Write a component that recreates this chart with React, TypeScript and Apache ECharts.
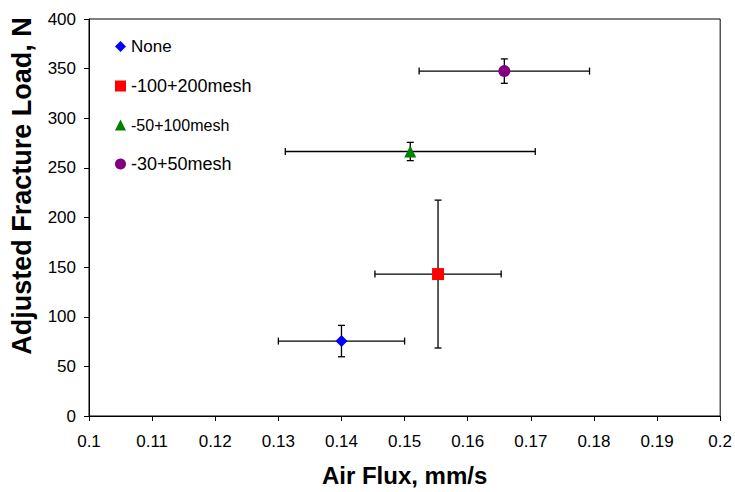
import React, { useEffect, useRef } from "react";
import * as echarts from "echarts";

const categories = ["None", "-100+200mesh", "-50+100mesh", "-30+50mesh"];
const airFlux = [0.14, 0.1553, 0.1509, 0.1658];
const fractureLoad = [75.5, 143, 266.5, 347.5];
const airFluxErr = [0.01, 0.01, 0.0198, 0.0135];
const loadErr = [15.8, 74.5, 9.2, 12.3];
const colors = ["#0000FF", "#FF0000", "#008000", "#800080"];
const symbols = ["diamond", "rect", "triangle", "circle"];
const symbolSizes = [12, 12, 12, 12];
const legendFontSizes = [17, 18, 16, 18];
const xTicks = { min: 0.1, max: 0.2, interval: 0.01 };
const yTicks = { min: 0, max: 400, interval: 50 };

export default function App() {
  const ref = useRef<HTMLDivElement>(null);
  useEffect(() => {
    if (!ref.current) return;
    const chart = echarts.init(ref.current, undefined, { renderer: "svg" });
    const font = "Liberation Sans, Arial, sans-serif";
    const errData = categories.map((_, i) => [
      airFlux[i],
      fractureLoad[i],
      airFluxErr[i],
      loadErr[i],
    ]);
    const scatterSeries = categories.map((name, i) => ({
      name,
      type: "scatter",
      z: 3,
      symbol: symbols[i],
      symbolSize: symbolSizes[i],
      itemStyle: { color: colors[i], opacity: 1 },
      data: [[airFlux[i], fractureLoad[i]]],
    }));
    const cap = 3.5;
    const option: any = {
      animation: false,
      backgroundColor: "#fff",
      textStyle: { fontFamily: font },
      grid: {
        left: 89,
        right: 13,
        top: 19,
        bottom: 74,
        show: true,
        borderColor: "#000",
        borderWidth: 1,
      },
      legend: {
        orient: "vertical",
        left: 110,
        top: 33,
        itemGap: 22,
        itemWidth: 11,
        itemHeight: 11,
        itemStyle: { opacity: 1 },
        textStyle: { fontFamily: font, color: "#000", fontSize: 17 },
        data: categories.map((name, i) => ({
          name,
          textStyle: { fontSize: legendFontSizes[i] },
        })),
      },
      xAxis: {
        type: "value",
        min: xTicks.min,
        max: xTicks.max,
        interval: xTicks.interval,
        name: "Air Flux, mm/s",
        nameLocation: "middle",
        nameGap: 47,
        nameTextStyle: {
          fontFamily: font,
          fontSize: 24,
          fontWeight: "bold",
          color: "#000",
        },
        axisLine: { show: true, lineStyle: { color: "#000", width: 1 } },
        axisTick: { show: true, length: 5, lineStyle: { color: "#000" } },
        axisLabel: {
          margin: 17,
          fontSize: 17,
          color: "#000",
          fontFamily: font,
          formatter: (v: number) => String(parseFloat(v.toFixed(2))),
        },
        splitLine: { show: false },
      },
      yAxis: {
        type: "value",
        min: yTicks.min,
        max: yTicks.max,
        interval: yTicks.interval,
        axisLine: { show: true, lineStyle: { color: "#000", width: 1 } },
        axisTick: { show: true, length: 5, lineStyle: { color: "#000" } },
        axisLabel: {
          margin: 13,
          fontSize: 17,
          color: "#000",
          fontFamily: font,
        },
        splitLine: { show: false },
      },
      graphic: [
        {
          type: "text",
          x: 22,
          y: 186,
          rotation: Math.PI / 2,
          style: {
            text: "Adjusted Fracture Load, N",
            fontFamily: font,
            fontSize: 27,
            fontWeight: "bold",
            fill: "#000",
            textAlign: "center",
            textVerticalAlign: "middle",
          },
        },
      ],
      series: [
        {
          name: "errorBars",
          type: "custom",
          z: 2,
          silent: true,
          data: errData,
          renderItem: (params: any, api: any) => {
            const x = api.value(0);
            const y = api.value(1);
            const ex = api.value(2);
            const ey = api.value(3);
            const c = api.coord([x, y]);
            const l = api.coord([x - ex, y]);
            const r = api.coord([x + ex, y]);
            const t = api.coord([x, y + ey]);
            const b = api.coord([x, y - ey]);
            const style = { stroke: "#000", lineWidth: 1.3 };
            return {
              type: "group",
              children: [
                { type: "line", shape: { x1: l[0], y1: c[1], x2: r[0], y2: c[1] }, style },
                { type: "line", shape: { x1: l[0], y1: c[1] - cap, x2: l[0], y2: c[1] + cap }, style },
                { type: "line", shape: { x1: r[0], y1: c[1] - cap, x2: r[0], y2: c[1] + cap }, style },
                { type: "line", shape: { x1: c[0], y1: t[1], x2: c[0], y2: b[1] }, style },
                { type: "line", shape: { x1: c[0] - cap, y1: t[1], x2: c[0] + cap, y2: t[1] }, style },
                { type: "line", shape: { x1: c[0] - cap, y1: b[1], x2: c[0] + cap, y2: b[1] }, style },
              ],
            };
          },
        },
        ...scatterSeries,
      ],
    };
    chart.setOption(option);
    return () => chart.dispose();
  }, []);
  return (
    <div
      ref={ref}
      style={{ position: "fixed", left: 0, top: 0, width: 735, height: 492 }}
    />
  );
}
